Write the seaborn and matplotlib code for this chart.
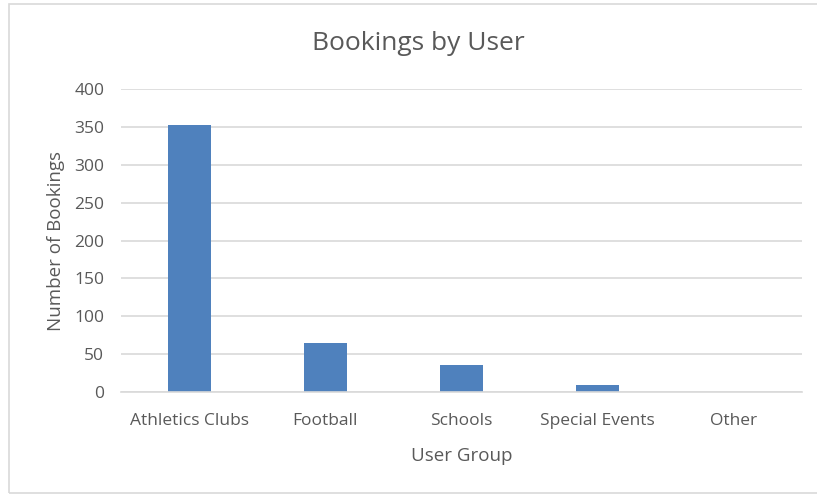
import matplotlib
matplotlib.use("Agg")
import matplotlib.pyplot as plt
import seaborn as sns
import pandas as pd
from matplotlib.patches import Rectangle

categories = ["Athletics Clubs", "Football", "Schools", "Special Events", "Other"]
bookings = [352, 65, 35, 9, 0]
y_ticks = [0, 50, 100, 150, 200, 250, 300, 350, 400]

sns.set_theme(style="white")
plt.rcParams['font.family'] = ['Open Sans', 'DejaVu Sans']

df = pd.DataFrame({"User Group": categories, "Number of Bookings": bookings})

fig = plt.figure(figsize=(8.17, 4.94), dpi=100)
ax = fig.add_axes([121/817, 1 - 392/494, (802-121)/817, (392-89)/494])

sns.barplot(data=df, x="User Group", y="Number of Bookings", color="#4f81bd",
            width=0.316, saturation=1, ax=ax, edgecolor="#4f81bd", linewidth=0)

ax.set_ylim(0, 400)
ax.set_yticks(y_ticks)
ax.set_yticklabels([str(t) for t in y_ticks])
ax.set_xlim(-0.5, len(categories) - 0.5)
ax.yaxis.grid(True, color="#d9d9d9", linewidth=1.2)
ax.set_axisbelow(True)
for s in ["top", "right", "left"]:
    ax.spines[s].set_visible(False)
ax.spines["bottom"].set_color("#d9d9d9")
ax.spines["bottom"].set_linewidth(1.2)
ax.tick_params(axis="both", length=0, labelsize=12.5, colors="#595959")
ax.tick_params(axis="x", pad=15)
ax.tick_params(axis="y", pad=12)

ax.set_xlabel("User Group", fontsize=13.5, color="#595959", labelpad=13)
ax.set_ylabel("Number of Bookings", fontsize=13.5, color="#595959", labelpad=7)

fig.text(418/817, 1 - 43/494, "Bookings by User", ha="center", va="center",
         fontsize=19, color="#595959")

fig.patches.append(Rectangle((9/817, 1/494), 1.0, 1 - 5/494, transform=fig.transFigure,
                             fill=False, edgecolor="#d9d9d9", linewidth=1.2))

fig.savefig("out.png", dpi=100)
